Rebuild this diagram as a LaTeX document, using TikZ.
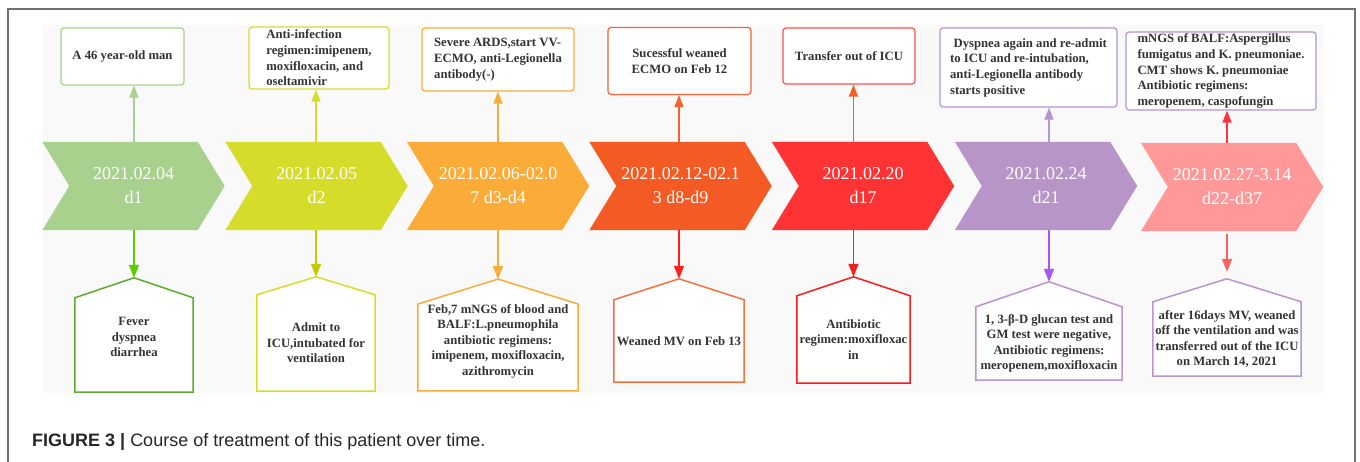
\documentclass[tikz,border=0pt]{standalone}
\usepackage{fontspec}
\setmainfont{Liberation Serif}
\newfontfamily\capfont{Liberation Sans}
\usetikzlibrary{arrows.meta,backgrounds}
\definecolor{bgc}{HTML}{F9F9F9}
\definecolor{framec}{HTML}{707070}
\definecolor{txtc}{HTML}{333333}
% chevron fills
\definecolor{cf1}{HTML}{A9D18E}\definecolor{cf2}{HTML}{D6DC2A}\definecolor{cf3}{HTML}{FBAB38}
\definecolor{cf4}{HTML}{F45B24}\definecolor{cf5}{HTML}{FF3333}\definecolor{cf6}{HTML}{B895C8}
\definecolor{cf7}{HTML}{FF9999}
% top box borders
\definecolor{tb1}{HTML}{A9D18E}\definecolor{tb2}{HTML}{D6DC2A}\definecolor{tb3}{HTML}{FBAB38}
\definecolor{tb4}{HTML}{F4623A}\definecolor{tb5}{HTML}{FF5050}\definecolor{tb6}{HTML}{B895D0}
\definecolor{tb7}{HTML}{B895D0}
% up arrows
\definecolor{ua1}{HTML}{A9D18E}\definecolor{ua2}{HTML}{D6DC2A}\definecolor{ua3}{HTML}{FBAB38}
\definecolor{ua4}{HTML}{F4622E}\definecolor{ua5}{HTML}{F4602A}\definecolor{ua6}{HTML}{B895D0}
\definecolor{ua7}{HTML}{FF3344}
% down arrows
\definecolor{da1}{HTML}{5FCC00}\definecolor{da2}{HTML}{C8C800}\definecolor{da3}{HTML}{FBAB38}
\definecolor{da4}{HTML}{FF1F1F}\definecolor{da5}{HTML}{EE2020}\definecolor{da6}{HTML}{A855F7}
\definecolor{da7}{HTML}{FF6060}
% house borders
\definecolor{hb1}{HTML}{5AAB2C}\definecolor{hb2}{HTML}{D6DC2A}\definecolor{hb3}{HTML}{FBAB38}
\definecolor{hb4}{HTML}{F4703E}\definecolor{hb5}{HTML}{FF1A1A}\definecolor{hb6}{HTML}{B895D0}
\definecolor{hb7}{HTML}{B895D0}

\newcommand\chevfill[2]{%
  \begin{scope}[on background layer]
    \fill[#2] (#1.north west) -- ([xshift=-27pt]#1.north east) -- (#1.east)
      -- ([xshift=-27pt]#1.south east) -- (#1.south west) -- ([xshift=27pt]#1.west) -- cycle;
  \end{scope}}
\newcommand\housedraw[3]{%
  \begin{scope}[on background layer]
    \filldraw[fill=white, draw=#3, line width=1.5pt, line join=miter]
      (#1.south west) -- (#1.north west) -- (#2) -- (#1.north east) -- (#1.south east) -- cycle;
  \end{scope}}

\tikzset{
  chev/.style={rectangle, inner sep=0pt, minimum width=182pt, minimum height=88pt,
    text=white, align=center, font=\fontsize{18}{24}\selectfont},
  topbox/.style={draw, fill=white, rounded corners=3pt, line width=1.2pt, inner sep=0pt,
    text=txtc, font=\bfseries\fontsize{12.7}{15.7}\selectfont},
  housebox/.style={rectangle, inner sep=0pt, text=txtc, align=center,
    font=\bfseries\fontsize{12.7}{15.5}\selectfont},
  uparrow/.style={line width=1.5pt, -{Triangle[length=12pt,width=9pt]}},
  downarrow/.style={line width=1.5pt, -{Triangle[length=13pt,width=10pt]}},
}

\begin{document}
\begin{tikzpicture}[x=1pt,y=-1pt]
\useasboundingbox (0,0) rectangle (1360,462);
% frame
\draw[framec, line width=1.5pt] (8,470) -- (8,9) -- (1355,9) -- (1355,470);
% backdrop
\begin{scope}[on background layer]
  \fill[bgc] (43,25) rectangle (1324,393);
\end{scope}

% chevrons
\node[chev] (c1) at (133.5,186) {2021.02.04\\d1};      \chevfill{c1}{cf1}
\node[chev] (c2) at (316.5,186) {2021.02.05\\d2};      \chevfill{c2}{cf2}
\node[chev] (c3) at (498,186) {2021.02.06-02.0\\7 d3-d4}; \chevfill{c3}{cf3}
\node[chev] (c4) at (680.5,186) {2021.02.12-02.1\\3 d8-d9}; \chevfill{c4}{cf4}
\node[chev] (c5) at (863,186) {2021.02.20\\d17};       \chevfill{c5}{cf5}
\node[chev] (c6) at (1046,186) {2021.02.24\\d21};      \chevfill{c6}{cf6}
\node[chev] (c7) at (1232,187) {2021.02.27-3.14\\d22-d37}; \chevfill{c7}{cf7}

% top boxes
\node[topbox, draw=tb1, minimum width=123pt, minimum height=57pt, align=center] (t1) at (122.5,56.5) {A 46 year-old man};
\node[topbox, draw=tb2, minimum width=140pt, minimum height=62pt, align=left] (t2) at (319,58) {Anti-infection\\regimen:imipenem,\\moxifloxacin, and\\oseltamivir};
\node[topbox, draw=tb3, minimum width=152pt, minimum height=63pt, align=left] (t3) at (498,59.5) {Severe ARDS,start VV-\\ECMO, anti-Legionella\\antibody(-)};
\node[topbox, draw=tb4, minimum width=143pt, minimum height=67pt, align=center] (t4) at (679.5,61) {Sucessful weaned\\ECMO on Feb 12};
\node[topbox, draw=tb5, minimum width=132pt, minimum height=56pt, align=center] (t5) at (849,56) {Transfer out of ICU};
\node[topbox, draw=tb6, minimum width=177pt, minimum height=79pt, align=left] (t6) at (1028.5,67.5) {\hspace*{3.5pt}Dyspnea again and re-admit\\to ICU and re-intubation,\\anti-Legionella antibody\\starts positive};
\node[topbox, draw=tb7, minimum width=190pt, minimum height=78pt, align=left] (t7) at (1221,71) {mNGS of BALF:Aspergillus\\fumigatus and K. pneumoniae.\\CMT shows K. pneumoniae\\Antibiotic regimens:\\meropenem, caspofungin};

% house boxes
\node[housebox, minimum width=118pt, minimum height=94pt] (b1) at (134,345) {Fever\\dyspnea\\diarrhea\\[0pt]\mbox{}};
\coordinate (p1) at ([yshift=20pt]b1.north); \housedraw{b1}{p1}{hb1}
\node[housebox, minimum width=118pt, minimum height=96pt] (b2) at (316,343) {Admit to\\ICU,intubated for\\ventilation};
\coordinate (p2) at ([yshift=18pt]b2.north); \housedraw{b2}{p2}{hb2}
\node[housebox, minimum width=160pt, minimum height=79pt] (b3) at (498,347.5) {Feb,7 mNGS of blood and\\BALF:L.pneumophila\\antibiotic regimens:\\imipenem, moxifloxacin,\\azithromycin\\[0pt]\mbox{}};
\coordinate (p3) at ([yshift=25pt]b3.north); \housedraw{b3}{p3}{hb3}
\node[housebox, minimum width=130pt, minimum height=82pt] (b4) at (679,341) {Weaned MV on Feb 13};
\coordinate (p4) at ([yshift=21pt]b4.north); \housedraw{b4}{p4}{hb4}
\node[housebox, minimum width=113pt, minimum height=87pt] (b5) at (853.5,339.5) {Antibiotic\\regimen:moxifloxac\\in};
\coordinate (p5) at ([yshift=19pt]b5.north); \housedraw{b5}{p5}{hb5}
\node[housebox, minimum width=146pt, minimum height=73pt] (b6) at (1049,343.5) {1, 3-β-D glucan test and\\GM test were negative,\\Antibiotic regimens:\\meropenem,moxifloxacin};
\coordinate (p6) at ([yshift=25pt]b6.north); \housedraw{b6}{p6}{hb6}
\node[housebox, minimum width=148pt, minimum height=74pt] (b7) at (1227,339) {after 16days MV, weaned\\off the ventilation and was\\transferred out of the ICU\\on March 14, 2021};
\coordinate (p7) at ([yshift=23pt]b7.north); \housedraw{b7}{p7}{hb7}

% up connectors
\draw[uparrow, ua1] (c1.north -| b1.north) -- (t1.south -| b1.north);
\draw[uparrow, ua2] (c2.north -| b2.north) -- (t2.south -| b2.north);
\draw[uparrow, ua3] (c3.north -| b3.north) -- (t3.south -| b3.north);
\draw[uparrow, ua4] (c4.north -| b4.north) -- (t4.south -| b4.north);
\draw[uparrow, ua5] (c5.north -| b5.north) -- (t5.south -| b5.north);
\draw[uparrow, ua6] (c6.north -| b6.north) -- (t6.south -| b6.north);
\draw[uparrow, ua7] (c7.north -| b7.north) -- (t7.south -| b7.north);

% down connectors
\draw[downarrow, da1] (c1.south -| b1.north) -- (p1);
\draw[downarrow, da2] (c2.south -| b2.north) -- (p2);
\draw[downarrow, da3] (c3.south -| b3.north) -- (p3);
\draw[downarrow, da4] (c4.south -| b4.north) -- (p4);
\draw[downarrow, da5] (c5.south -| b5.north) -- (p5);
\draw[downarrow, da6] (c6.south -| b6.north) -- (p6);
\draw[downarrow, da7] ([yshift=-3pt]c7.south -| b7.north) -- ([yshift=7pt]p7);

% caption
\node[anchor=west, inner sep=0pt, text=black!85, font=\capfont\fontsize{18}{22}\selectfont] (cap) at (32,442)
  {\textbf{FIGURE 3 |} Course of treatment of this patient over time.};
\end{tikzpicture}
\end{document}
